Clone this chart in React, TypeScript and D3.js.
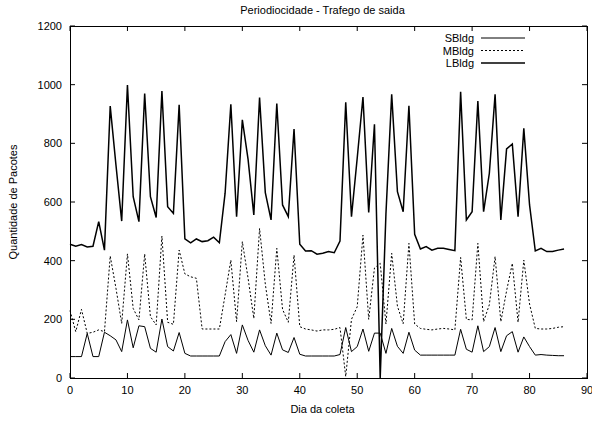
import * as d3 from 'd3';

const days = d3.range(0, 87);

const sBldg = [
  73, 73, 73, 152, 73, 73, 156, 144, 130, 90, 198, 103, 178, 175, 101, 88, 201, 107, 92, 155,
  84, 75, 75, 75, 75, 75, 75, 124, 148, 84, 181, 128, 88, 164, 110, 78, 153, 96, 87, 138,
  81, 75, 75, 75, 75, 75, 75, 80, 172, 90, 107, 167, 91, 153, 153, 84, 169, 108, 84, 156,
  95, 78, 78, 78, 78, 78, 78, 78, 166, 98, 88, 178, 90, 107, 172, 90, 144, 158, 88, 140,
  107, 78, 80, 78, 77, 76, 76,
];

const mBldg = [
  230, 158, 234, 152, 156, 164, 158, 416, 306, 186, 423, 237, 198, 423, 209, 181, 484, 190, 183, 436,
  355, 345, 340, 167, 167, 167, 167, 283, 402, 192, 465, 340, 203, 510, 320, 186, 442, 234, 190, 419,
  175, 167, 164, 160, 164, 164, 166, 172, 5, 200, 243, 487, 200, 375, 391, 184, 425, 245, 185, 459,
  184, 169, 166, 164, 167, 169, 167, 164, 411, 200, 198, 459, 192, 250, 414, 192, 297, 391, 190, 402,
  252, 169, 167, 167, 169, 173, 175,
];

const lBldg = [
  456, 449, 455, 447, 449, 533, 436, 927, 726, 535, 999, 618, 533, 970, 618, 547, 978, 584, 561, 931,
  474, 461, 474, 465, 468, 480, 461, 630, 933, 550, 880, 745, 556, 956, 632, 539, 936, 590, 550, 849,
  456, 433, 434, 422, 425, 431, 427, 467, 940, 550, 750, 958, 564, 865, 0, 560, 967, 635, 567, 928,
  490, 440, 448, 436, 442, 442, 438, 434, 976, 539, 567, 944, 567, 698, 967, 539, 781, 798, 550, 851,
  590, 433, 442, 431, 431, 436, 440,
];

const xTicks = [0, 10, 20, 30, 40, 50, 60, 70, 80, 90];
const yTicks = [0, 200, 400, 600, 800, 1000, 1200];

const seriesNames = ['SBldg', 'MBldg', 'LBldg'];

const width = 592;
const height = 421;
const margin = { top: 26, right: 5, bottom: 43, left: 70 };
const font = '"Liberation Sans", Arial, sans-serif';

export default function App() {
  const x = d3.scaleLinear().domain([0, 90]).range([margin.left, width - margin.right]);
  const y = d3.scaleLinear().domain([0, 1200]).range([height - margin.bottom, margin.top]);

  const line = d3
    .line<number>()
    .x((_, i) => x(days[i]))
    .y((d) => y(d));

  const series = [
    { name: seriesNames[0], values: sBldg, width: 1, dash: undefined },
    { name: seriesNames[1], values: mBldg, width: 1, dash: '2,2' },
    { name: seriesNames[2], values: lBldg, width: 1.5, dash: undefined },
  ];

  const x0 = x(0);
  const x1 = x(90);
  const y0 = y(0);
  const y1 = y(1200);

  return (
    <svg
      width={width}
      height={height}
      style={{ position: 'absolute', left: 0, top: 0, background: 'white' }}
      fontFamily={font}
      fontSize={11}
    >
      <text x={(x0 + x1) / 2 - 6} y={14} textAnchor="middle">
        Periodiocidade - Trafego de saida
      </text>

      {/* ticks, gnuplot style: inward and mirrored */}
      {yTicks.map((t) => (
        <g key={'y' + t}>
          <line x1={x0} x2={x0 + 5} y1={y(t)} y2={y(t)} stroke="black" />
          <line x1={x1} x2={x1 - 5} y1={y(t)} y2={y(t)} stroke="black" />
          <text x={x0 - 8} y={y(t) + 4} textAnchor="end">
            {t}
          </text>
        </g>
      ))}
      {xTicks.map((t) => (
        <g key={'x' + t}>
          <line x1={x(t)} x2={x(t)} y1={y0} y2={y0 - 5} stroke="black" />
          <line x1={x(t)} x2={x(t)} y1={y1} y2={y1 + 5} stroke="black" />
          <text x={x(t)} y={y0 + 16} textAnchor="middle">
            {t}
          </text>
        </g>
      ))}

      {series.map((s) => (
        <path
          key={s.name}
          d={line(s.values) ?? ''}
          fill="none"
          stroke="black"
          strokeWidth={s.width}
          strokeDasharray={s.dash}
          strokeLinejoin="miter"
        />
      ))}

      {/* legend */}
      {series.map((s, i) => (
        <g key={'leg' + s.name} transform={`translate(0, ${38 + i * 12.5})`}>
          <text x={474} y={4} textAnchor="end">
            {s.name}
          </text>
          <line
            x1={481}
            x2={525}
            y1={0}
            y2={0}
            stroke="black"
            strokeWidth={s.width}
            strokeDasharray={s.dash}
          />
        </g>
      ))}

      <rect
        x={x0}
        y={y1}
        width={x1 - x0}
        height={y0 - y1}
        fill="none"
        stroke="black"
        shapeRendering="crispEdges"
      />

      <text x={(x0 + x1) / 2 - 6} y={413} textAnchor="middle">
        Dia da coleta
      </text>
      <text transform={`translate(17, ${(y0 + y1) / 2}) rotate(-90)`} textAnchor="middle">
        Quantidade de Pacotes
      </text>
    </svg>
  );
}
